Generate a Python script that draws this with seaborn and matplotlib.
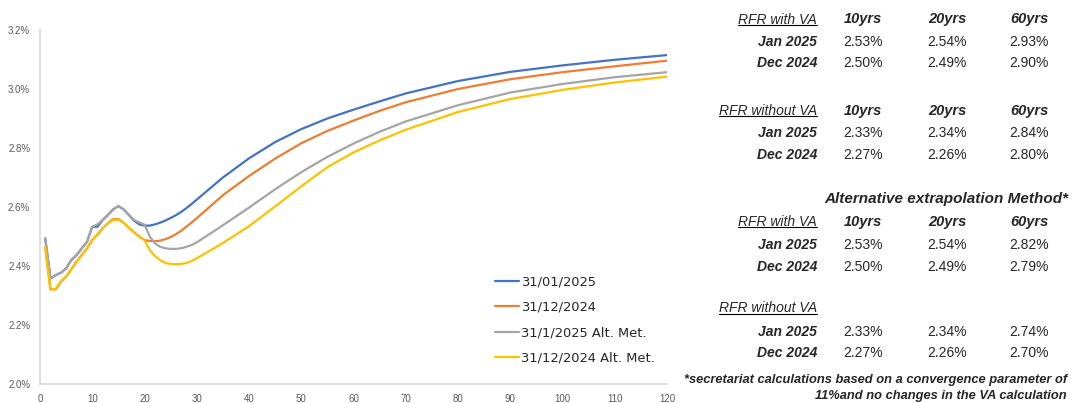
import pandas as pd
import matplotlib.pyplot as plt
import seaborn as sns
from matplotlib.lines import Line2D
from matplotlib.ticker import FuncFormatter, MultipleLocator

# maturities (years) and spot rates in %
years = list(range(1, 31)) + [35, 40, 45, 50, 55, 60, 65, 70, 80, 90, 100, 110, 120]

jan_2025 = [2.494, 2.358, 2.369, 2.377, 2.392, 2.420, 2.437, 2.460, 2.482, 2.533,
            2.533, 2.556, 2.573, 2.592, 2.603, 2.592, 2.573, 2.554, 2.541, 2.537,
            2.537, 2.541, 2.547, 2.554, 2.563, 2.572, 2.583, 2.596, 2.610, 2.625,
            2.700, 2.765, 2.820, 2.864, 2.900, 2.930, 2.958, 2.985, 3.027, 3.058,
            3.080, 3.099, 3.115]

dec_2024 = [2.465, 2.321, 2.321, 2.347, 2.364, 2.389, 2.415, 2.437, 2.460, 2.488,
            2.507, 2.528, 2.545, 2.559, 2.559, 2.547, 2.530, 2.514, 2.500, 2.488,
            2.485, 2.484, 2.486, 2.491, 2.498, 2.508, 2.519, 2.533, 2.547, 2.562,
            2.640, 2.705, 2.764, 2.816, 2.858, 2.893, 2.926, 2.955, 3.000, 3.033,
            3.057, 3.077, 3.096]

jan_2025_alt = [2.494, 2.358, 2.369, 2.377, 2.392, 2.420, 2.437, 2.460, 2.482, 2.533,
                2.541, 2.556, 2.573, 2.592, 2.603, 2.592, 2.573, 2.556, 2.548, 2.540,
                2.500, 2.477, 2.465, 2.460, 2.458, 2.458, 2.460, 2.465, 2.471, 2.480,
                2.538, 2.598, 2.660, 2.718, 2.770, 2.815, 2.855, 2.890, 2.945, 2.988,
                3.017, 3.040, 3.057]

dec_2024_alt = [2.465, 2.321, 2.321, 2.347, 2.364, 2.389, 2.415, 2.437, 2.460, 2.488,
                2.507, 2.528, 2.545, 2.556, 2.557, 2.547, 2.530, 2.514, 2.500, 2.488,
                2.454, 2.434, 2.420, 2.410, 2.407, 2.406, 2.407, 2.410, 2.417, 2.426,
                2.478, 2.535, 2.602, 2.670, 2.735, 2.785, 2.826, 2.862, 2.922, 2.966,
                2.997, 3.022, 3.042]

series_names = ['31/01/2025', '31/12/2024', '31/1/2025 Alt. Met.', '31/12/2024 Alt. Met.']
colors = ['#4472C4', '#ED7D31', '#A5A5A5', '#FFC000']

# side tables
col_heads = ['10yrs', '20yrs', '60yrs']
row_heads = ['Jan 2025', 'Dec 2024']
with_va = [['2.53%', '2.54%', '2.93%'], ['2.50%', '2.49%', '2.90%']]
without_va = [['2.33%', '2.34%', '2.84%'], ['2.27%', '2.26%', '2.80%']]
alt_with_va = [['2.53%', '2.54%', '2.82%'], ['2.50%', '2.49%', '2.79%']]
alt_without_va = [['2.33%', '2.34%', '2.74%'], ['2.27%', '2.26%', '2.70%']]

frames = []
for name, vals in zip(series_names, [jan_2025, dec_2024, jan_2025_alt, dec_2024_alt]):
    frames.append(pd.DataFrame({'Maturity': years, 'Rate': vals, 'Curve': name}))
df = pd.concat(frames, ignore_index=True)

sns.set_style('white')
plt.rcParams['font.family'] = ['Liberation Sans', 'DejaVu Sans']

W, H = 1073, 403
fig = plt.figure(figsize=(W / 100, H / 100), dpi=100)
ax = fig.add_axes([40 / W, 1 - 384 / H, 627 / W, 354 / H])

sns.lineplot(data=df, x='Maturity', y='Rate', hue='Curve', hue_order=series_names,
             palette=colors, linewidth=1.6, ax=ax)

ax.set_xlim(0, 120)
ax.set_ylim(2.0, 3.2)
ax.xaxis.set_major_locator(MultipleLocator(10))
ax.yaxis.set_major_locator(MultipleLocator(0.2))
ax.yaxis.set_major_formatter(FuncFormatter(lambda v, p: f'{v:.1f}%'))
ax.set_xlabel('')
ax.set_ylabel('')
ax.tick_params(length=0, labelsize=7, labelcolor='#595959')
ax.tick_params(axis='x', pad=7)
ax.tick_params(axis='y', pad=7)
for s in ['top', 'right']:
    ax.spines[s].set_visible(False)
for s in ['left', 'bottom']:
    ax.spines[s].set_color('#D9D9D9')
    ax.spines[s].set_linewidth(1.2)

leg = ax.legend(loc='upper left', bbox_to_anchor=(488 / W, 1 - 269 / H),
                bbox_transform=fig.transFigure, frameon=False, borderpad=0,
                handlelength=1.9, handletextpad=0.1, labelspacing=0.95,
                prop={'family': 'DejaVu Sans', 'size': 9.4})
for line in leg.get_lines():
    line.set_linewidth(1.6)


def ftext(x, y, s, ha='center', **kw):
    return fig.text(x / W, 1 - y / H, s, ha=ha, va='center', **kw)


col_x = [863, 947, 1029]
label_x = 817
underlined = []


def draw_table(y_head, y_rows, title, values, show_cols=True):
    t = ftext(label_x, y_head, title, ha='right', fontsize=10, style='italic')
    underlined.append(t)
    if show_cols:
        for cx, c in zip(col_x, col_heads):
            ftext(cx, y_head, c, fontsize=10.5, style='italic', weight='bold')
    for yy, rh, row in zip(y_rows, row_heads, values):
        ftext(label_x, yy, rh, ha='right', fontsize=10, style='italic', weight='bold')
        for cx, v in zip(col_x, row):
            ftext(cx, yy, v, fontsize=10)


draw_table(19.5, [41.7, 63.3], 'RFR with VA', with_va)
draw_table(110.7, [133.3, 155], 'RFR without VA', without_va)
ftext(1068, 199, 'Alternative extrapolation Method*', ha='right', fontsize=11,
      style='italic', weight='bold')
draw_table(221.7, [245, 266.7], 'RFR with VA', alt_with_va)
draw_table(308.3, [331.7, 353.3], 'RFR without VA', alt_without_va, show_cols=False)
ftext(1067, 380.5, '*secretariat calculations based on a convergence parameter of',
      ha='right', fontsize=9.3, style='italic', weight='bold')
ftext(1067, 396, '11%and no changes in the VA calculation',
      ha='right', fontsize=9.3, style='italic', weight='bold')

# underline the table titles
fig.canvas.draw()
renderer = fig.canvas.get_renderer()
inv = fig.transFigure.inverted()
for t in underlined:
    bb = t.get_window_extent(renderer)
    (x0, y0), (x1, _) = inv.transform([[bb.x0, bb.y0 + 1.5], [bb.x1, bb.y0]])
    fig.add_artist(Line2D([x0, x1], [y0, y0], transform=fig.transFigure,
                          color='black', linewidth=0.8))

fig.savefig('out.png', dpi=100)
